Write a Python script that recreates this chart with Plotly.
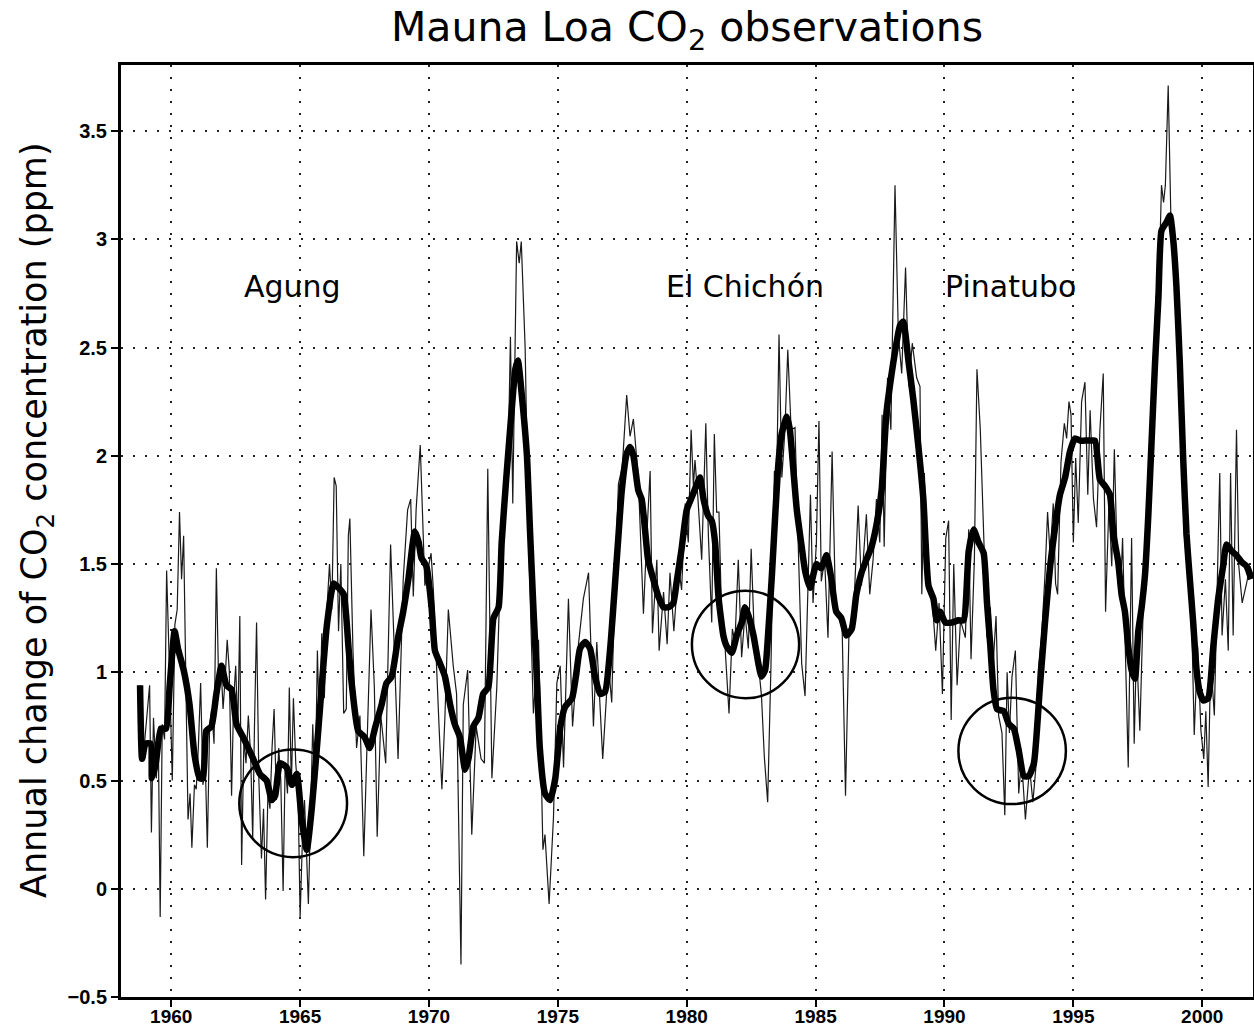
import plotly.graph_objects as go

# ---- Data ----
thin_years = [
    1958.79, 1958.83, 1958.96, 1959.16, 1959.23, 1959.31, 1959.42, 1959.50, 1959.57, 1959.65,
    1959.74, 1959.82, 1959.94, 1960.04, 1960.14, 1960.23, 1960.32, 1960.40, 1960.48, 1960.56,
    1960.65, 1960.73, 1960.80, 1960.90, 1960.97, 1961.05, 1961.14, 1961.23, 1961.32, 1961.40,
    1961.49, 1961.57, 1961.66, 1961.75, 1961.84, 1961.94, 1962.01, 1962.09, 1962.17, 1962.25,
    1962.34, 1962.42, 1962.50, 1962.58, 1962.66, 1962.73, 1962.82, 1962.90, 1962.99, 1963.08,
    1963.16, 1963.23, 1963.31, 1963.40, 1963.50, 1963.58, 1963.66, 1963.75, 1963.83, 1963.91,
    1963.99, 1964.08, 1964.17, 1964.25, 1964.34, 1964.42, 1964.51, 1964.58, 1964.66, 1964.74,
    1964.83, 1964.92, 1965.00, 1965.09, 1965.17, 1965.25, 1965.32, 1965.42, 1965.49, 1965.58,
    1965.67, 1965.75, 1965.84, 1965.94, 1966.04, 1966.14, 1966.23, 1966.32, 1966.40, 1966.49,
    1966.58, 1966.69, 1966.79, 1966.87, 1966.93, 1967.05, 1967.19, 1967.32, 1967.47, 1967.58,
    1967.75, 1967.88, 1967.99, 1968.13, 1968.32, 1968.51, 1968.68, 1968.80, 1969.00, 1969.17,
    1969.29, 1969.39, 1969.50, 1969.66, 1969.84, 1970.08, 1970.17, 1970.30, 1970.39, 1970.50,
    1970.62, 1970.75, 1970.94, 1971.07, 1971.24, 1971.33, 1971.50, 1971.66, 1971.83, 1972.02,
    1972.15, 1972.28, 1972.44, 1972.63, 1972.72, 1972.93, 1973.08, 1973.16, 1973.25, 1973.40,
    1973.50, 1973.58, 1973.73, 1973.86, 1973.99, 1974.05, 1974.25, 1974.35, 1974.42, 1974.50,
    1974.66, 1974.83, 1974.96, 1975.09, 1975.22, 1975.41, 1975.57, 1975.80, 1975.99, 1976.19,
    1976.38, 1976.51, 1976.74, 1976.96, 1977.09, 1977.22, 1977.35, 1977.50, 1977.67, 1977.80,
    1977.93, 1978.12, 1978.32, 1978.45, 1978.58, 1978.67, 1978.84, 1978.93, 1979.10, 1979.24,
    1979.35, 1979.50, 1979.68, 1979.80, 1979.94, 1980.06, 1980.17, 1980.26, 1980.32, 1980.43,
    1980.58, 1980.74, 1980.84, 1980.97, 1981.07, 1981.16, 1981.25, 1981.36, 1981.49, 1981.64,
    1981.77, 1981.87, 1982.00, 1982.13, 1982.26, 1982.39, 1982.50, 1982.65, 1982.78, 1982.90,
    1983.01, 1983.14, 1983.27, 1983.40, 1983.49, 1983.58, 1983.69, 1983.81, 1983.92, 1984.05,
    1984.20, 1984.33, 1984.46, 1984.59, 1984.72, 1984.80, 1984.90, 1985.03, 1985.13, 1985.22,
    1985.35, 1985.48, 1985.64, 1985.77, 1985.90, 1986.03, 1986.16, 1986.29, 1986.45, 1986.65,
    1986.78, 1986.97, 1987.10, 1987.23, 1987.36, 1987.49, 1987.58, 1987.66, 1987.79, 1987.92,
    1988.08, 1988.21, 1988.34, 1988.49, 1988.62, 1988.75, 1988.92, 1989.05, 1989.12, 1989.22,
    1989.35, 1989.51, 1989.66, 1989.79, 1989.92, 1990.05, 1990.16, 1990.26, 1990.36, 1990.49,
    1990.62, 1990.81, 1990.94, 1991.03, 1991.16, 1991.26, 1991.39, 1991.52, 1991.65, 1991.78,
    1991.87, 1992.00, 1992.10, 1992.23, 1992.34, 1992.43, 1992.52, 1992.62, 1992.75, 1992.88,
    1992.99, 1993.14, 1993.30, 1993.43, 1993.56, 1993.64, 1993.77, 1993.90, 1994.00, 1994.10,
    1994.22, 1994.31, 1994.39, 1994.52, 1994.65, 1994.74, 1994.83, 1994.91, 1995.00, 1995.09,
    1995.19, 1995.32, 1995.45, 1995.56, 1995.65, 1995.78, 1995.90, 1996.03, 1996.16, 1996.25,
    1996.38, 1996.49, 1996.59, 1996.72, 1996.82, 1996.91, 1997.00, 1997.13, 1997.26, 1997.36,
    1997.45, 1997.58, 1997.71, 1997.84, 1997.97, 1998.10, 1998.20, 1998.32, 1998.42, 1998.50,
    1998.57, 1998.68, 1998.78, 1998.88, 1998.97, 1999.10, 1999.20, 1999.30, 1999.39, 1999.52,
    1999.61, 1999.69, 1999.82, 1999.95, 2000.06, 2000.14, 2000.23, 2000.33, 2000.47, 2000.59,
    2000.68, 2000.77, 2000.90, 2001.01, 2001.10, 2001.20, 2001.33, 2001.42, 2001.55, 2001.72,
    2001.85, 2001.97,
]
thin_vals = [
    0.94, 0.60, 0.67, 0.94, 0.26, 0.79, 0.51, 0.67, -0.13, 0.76,
    0.69, 1.47, 0.97, 0.50, 1.22, 1.29, 1.74, 1.43, 1.63, 1.00,
    0.32, 0.44, 0.19, 0.48, 0.46, 0.65, 0.95, 0.48, 0.58, 0.19,
    0.76, 0.83, 0.67, 1.48, 0.94, 1.01, 0.83, 0.97, 1.15, 1.01,
    0.43, 0.87, 1.03, 0.73, 1.26, 0.11, 0.69, 0.58, 0.80, 0.62,
    0.23, 0.76, 1.23, 0.50, 0.14, 0.37, -0.05, 0.44, 0.37, 0.65,
    0.83, 0.41, 0.65, 0.50, -0.01, 0.58, 0.44, 0.93, 0.48, 0.88,
    0.58, 0.44, -0.13, 0.23, 0.41, 0.16, -0.07, 0.41, 0.76, 0.43,
    1.10, 0.71, 1.18, 0.88, 1.29, 1.50, 1.29, 1.90, 1.86, 1.19,
    1.50, 0.81, 0.83, 1.63, 1.71, 1.10, 0.65, 0.80, 0.15, 0.60,
    1.29, 0.93, 0.24, 0.80, 0.58, 1.59, 1.00, 0.60, 1.43, 1.75,
    1.80, 1.35, 1.75, 2.05, 1.40, 1.55, 1.38, 1.05, 0.75, 0.46,
    0.80, 1.29, 1.03, 0.90, -0.35, 0.85, 1.01, 0.25, 0.75, 0.60,
    0.58, 1.94, 0.51, 0.93, 1.28, 1.75, 2.05, 2.55, 1.78, 2.99,
    2.89, 2.99, 2.50, 1.63, 1.00, 0.81, 1.15, 0.63, 0.18, 0.25,
    -0.07, 0.33, 0.95, 1.03, 0.56, 1.34, 0.75, 1.13, 1.34, 1.46,
    0.75, 1.14, 0.60, 1.04, 0.86, 1.45, 1.87, 1.95, 2.28, 2.09,
    2.17, 1.90, 1.27, 1.63, 1.93, 1.18, 1.52, 1.10, 1.37, 1.13,
    1.46, 1.19, 1.49, 1.38, 1.78, 1.60, 2.12, 1.86, 1.98, 1.81,
    1.52, 2.15, 1.63, 1.23, 2.10, 1.74, 1.74, 1.23, 1.11, 0.81,
    1.20, 1.14, 1.52, 1.07, 1.27, 1.11, 1.57, 1.07, 1.04, 0.89,
    0.61, 0.40, 1.04, 1.93, 1.89, 2.56, 1.90, 2.12, 2.49, 2.12,
    2.13, 1.57, 1.04, 0.89, 1.50, 1.82, 1.32, 1.60, 2.16, 1.42,
    1.52, 1.16, 2.02, 1.32, 1.26, 1.20, 0.43, 1.16, 1.20, 1.77,
    1.40, 1.73, 1.36, 1.52, 1.80, 1.60, 2.19, 1.58, 2.36, 2.12,
    3.25, 2.56, 2.38, 2.87, 2.32, 2.52, 2.36, 2.32, 1.36, 1.92,
    1.40, 1.36, 1.10, 1.32, 0.90, 1.62, 1.70, 0.78, 1.50, 0.94,
    1.24, 1.16, 1.66, 1.06, 1.52, 2.40, 2.12, 1.58, 1.16, 1.30,
    1.00, 1.26, 0.80, 0.72, 0.34, 1.00, 0.72, 0.98, 1.10, 0.44,
    0.60, 0.32, 0.56, 0.40, 0.58, 1.01, 1.17, 1.45, 1.74, 1.54,
    1.78, 1.41, 1.36, 1.97, 2.15, 2.08, 2.25, 2.19, 1.60, 1.99,
    1.69, 2.25, 2.34, 1.82, 2.21, 1.80, 1.67, 2.12, 2.38, 1.28,
    1.78, 1.49, 2.03, 1.43, 1.34, 1.62, 1.21, 0.56, 1.62, 0.67,
    1.12, 0.73, 1.30, 1.43, 1.78, 2.25, 2.73, 2.80, 3.25, 3.17,
    3.25, 3.71, 3.12, 3.01, 2.82, 2.43, 2.10, 1.64, 1.51, 1.34,
    1.14, 0.71, 1.12, 0.73, 0.60, 0.82, 0.47, 1.06, 0.80, 1.38,
    1.92, 1.17, 1.43, 1.10, 1.92, 1.17, 2.12, 1.49, 1.32, 1.41,
    1.49, 1.45,
]

smooth_years = [
    1958.79, 1958.87, 1959.00, 1959.20, 1959.25, 1959.40, 1959.60, 1959.80, 1959.94, 1960.13,
    1960.26, 1960.50, 1960.71, 1960.90, 1961.10, 1961.23, 1961.36, 1961.56, 1961.75, 1961.95,
    1962.14, 1962.34, 1962.53, 1962.79, 1962.99, 1963.18, 1963.44, 1963.70, 1963.90, 1964.03,
    1964.22, 1964.48, 1964.68, 1964.87, 1965.06, 1965.26, 1965.45, 1965.65, 1965.84, 1966.04,
    1966.30, 1966.49, 1966.69, 1966.88, 1967.00, 1967.25, 1967.50, 1967.70, 1967.90, 1968.16,
    1968.35, 1968.55, 1968.80, 1969.00, 1969.20, 1969.45, 1969.60, 1969.70, 1969.90, 1970.10,
    1970.23, 1970.43, 1970.62, 1970.82, 1971.00, 1971.20, 1971.40, 1971.53, 1971.72, 1971.92,
    1972.10, 1972.30, 1972.50, 1972.70, 1972.82, 1973.00, 1973.20, 1973.35, 1973.45, 1973.60,
    1973.80, 1973.92, 1974.05, 1974.20, 1974.30, 1974.50, 1974.70, 1974.90, 1975.10, 1975.28,
    1975.55, 1975.70, 1975.86, 1976.06, 1976.25, 1976.44, 1976.64, 1976.83, 1977.03, 1977.20,
    1977.35, 1977.48, 1977.67, 1977.80, 1977.93, 1978.12, 1978.25, 1978.38, 1978.50, 1978.70,
    1978.90, 1979.10, 1979.29, 1979.48, 1979.60, 1979.80, 1980.00, 1980.20, 1980.40, 1980.52,
    1980.65, 1980.84, 1980.97, 1981.10, 1981.23, 1981.42, 1981.55, 1981.75, 1981.94, 1982.13,
    1982.26, 1982.40, 1982.59, 1982.78, 1982.90, 1983.04, 1983.17, 1983.30, 1983.43, 1983.56,
    1983.68, 1983.88, 1984.00, 1984.14, 1984.27, 1984.46, 1984.59, 1984.78, 1985.03, 1985.22,
    1985.42, 1985.60, 1985.80, 1986.00, 1986.20, 1986.40, 1986.58, 1986.78, 1986.97, 1987.17,
    1987.36, 1987.56, 1987.75, 1987.95, 1988.08, 1988.27, 1988.40, 1988.60, 1988.79, 1988.99,
    1989.18, 1989.38, 1989.57, 1989.70, 1989.83, 1990.03, 1990.29, 1990.55, 1990.74, 1990.94,
    1991.13, 1991.32, 1991.52, 1991.65, 1991.78, 1991.90, 1992.04, 1992.30, 1992.50, 1992.69,
    1992.88, 1993.08, 1993.27, 1993.47, 1993.70, 1993.90, 1994.10, 1994.29, 1994.48, 1994.68,
    1994.87, 1995.06, 1995.26, 1995.45, 1995.65, 1995.84, 1996.03, 1996.23, 1996.42, 1996.55,
    1996.74, 1996.87, 1997.00, 1997.13, 1997.26, 1997.39, 1997.52, 1997.65, 1997.78, 1997.91,
    1998.04, 1998.17, 1998.30, 1998.42, 1998.62, 1998.75, 1998.88, 1999.00, 1999.13, 1999.26,
    1999.39, 1999.52, 1999.65, 1999.78, 1999.90, 2000.04, 2000.23, 2000.43, 2000.62, 2000.81,
    2000.94, 2001.14, 2001.33, 2001.52, 2001.72, 2001.90,
]
smooth_vals = [
    0.94, 0.60, 0.67, 0.67, 0.51, 0.58, 0.74, 0.74, 0.94, 1.19,
    1.11, 1.00, 0.85, 0.62, 0.51, 0.51, 0.73, 0.75, 0.90, 1.03,
    0.94, 0.92, 0.76, 0.70, 0.65, 0.60, 0.53, 0.50, 0.41, 0.43,
    0.58, 0.56, 0.48, 0.53, 0.32, 0.18, 0.37, 0.65, 0.94, 1.22,
    1.41, 1.39, 1.36, 1.11, 0.95, 0.73, 0.70, 0.65, 0.74, 0.85,
    0.95, 0.98, 1.16, 1.28, 1.43, 1.65, 1.60, 1.53, 1.49, 1.30,
    1.10, 1.04, 0.98, 0.85, 0.76, 0.70, 0.55, 0.60, 0.75, 0.79,
    0.90, 0.93, 1.25, 1.30, 1.60, 1.90, 2.20, 2.40, 2.44, 2.28,
    2.00, 1.65, 1.30, 0.93, 0.65, 0.44, 0.41, 0.51, 0.75, 0.84,
    0.88, 0.98, 1.11, 1.14, 1.11, 0.98, 0.90, 0.91, 1.11, 1.38,
    1.63, 1.84, 2.01, 2.04, 2.00, 1.84, 1.80, 1.66, 1.52, 1.43,
    1.35, 1.30, 1.30, 1.32, 1.41, 1.57, 1.75, 1.81, 1.87, 1.90,
    1.80, 1.72, 1.70, 1.60, 1.35, 1.17, 1.12, 1.09, 1.17, 1.23,
    1.30, 1.26, 1.17, 1.04, 0.98, 1.01, 1.20, 1.44, 1.72, 1.97,
    2.10, 2.18, 2.12, 1.93, 1.75, 1.58, 1.47, 1.39, 1.50, 1.48,
    1.54, 1.44, 1.28, 1.25, 1.17, 1.20, 1.36, 1.46, 1.52, 1.58,
    1.68, 1.84, 2.20, 2.38, 2.48, 2.60, 2.62, 2.44, 2.26, 2.04,
    1.80, 1.40, 1.34, 1.24, 1.28, 1.23, 1.23, 1.24, 1.24, 1.56,
    1.66, 1.60, 1.55, 1.32, 1.12, 0.92, 0.83, 0.82, 0.76, 0.74,
    0.64, 0.52, 0.52, 0.58, 0.93, 1.23, 1.49, 1.67, 1.82, 1.90,
    2.02, 2.08, 2.07, 2.07, 2.07, 2.07, 1.89, 1.86, 1.82, 1.64,
    1.51, 1.36, 1.28, 1.12, 1.01, 0.97, 1.19, 1.30, 1.45, 1.73,
    2.08, 2.43, 2.73, 3.04, 3.08, 3.11, 2.99, 2.78, 2.43, 1.99,
    1.64, 1.43, 1.23, 1.01, 0.91, 0.87, 0.88, 1.12, 1.34, 1.49,
    1.59, 1.56, 1.54, 1.51, 1.49, 1.43,
]

volcano_names = ["Agung", "El Chichón", "Pinatubo"]
volcano_label_x = [1964.69, 1982.26, 1992.58]
volcano_label_y = [2.78, 2.78, 2.78]
circle_x0 = [1962.64, 1980.20, 1990.54]
circle_x1 = [1966.82, 1984.36, 1994.71]
circle_y0 = [0.146, 0.880, 0.391]
circle_y1 = [0.643, 1.377, 0.882]

x_tick_vals = [1960, 1965, 1970, 1975, 1980, 1985, 1990, 1995, 2000]
y_tick_vals = [-0.5, 0, 0.5, 1, 1.5, 2, 2.5, 3, 3.5]

# ---- Figure ----
fig = go.Figure()
fig.add_trace(go.Scatter(x=thin_years, y=thin_vals, mode="lines",
                         line=dict(color="#1a1a1a", width=1.2), hoverinfo="skip"))
fig.add_trace(go.Scatter(x=smooth_years, y=smooth_vals, mode="lines",
                         line=dict(color="black", width=6.5, shape="spline", smoothing=0.5),
                         hoverinfo="skip"))

for x0, x1, y0, y1 in zip(circle_x0, circle_x1, circle_y0, circle_y1):
    fig.add_shape(type="circle", xref="x", yref="y", x0=x0, x1=x1, y0=y0, y1=y1,
                  line=dict(color="black", width=2.5))

for name, lx, ly in zip(volcano_names, volcano_label_x, volcano_label_y):
    fig.add_annotation(x=lx, y=ly, xref="x", yref="y", text=name, showarrow=False,
                       font=dict(family="DejaVu Sans", size=30, color="black"),
                       xanchor="center", yanchor="middle")

fig.add_annotation(xref="paper", yref="paper", x=-0.074, y=0.512,
                   text="Annual change of CO<sub>2</sub> concentration (ppm)",
                   textangle=-90, showarrow=False,
                   font=dict(family="DejaVu Sans", size=35, color="black"),
                   xanchor="center", yanchor="middle")

grid_style = dict(showgrid=True, gridcolor="#222222", gridwidth=1.5, griddash="2px,10px")

fig.update_layout(
    width=1254, height=1030,
    margin=dict(l=121, r=1, t=65, b=33),
    paper_bgcolor="white", plot_bgcolor="white",
    showlegend=False,
    title=dict(text="Mauna Loa CO<sub>2</sub> observations",
               x=0.5, xref="paper", xanchor="center",
               y=0.974, yref="container", yanchor="middle",
               font=dict(family="DejaVu Sans", size=41, color="black")),
    xaxis=dict(range=[1958.05, 2001.97], tickvals=x_tick_vals, automargin=False,
               ticks="outside", ticklen=7, tickwidth=2, tickcolor="black",
               ticklabelstandoff=-7,
               showline=True, linewidth=3, linecolor="black", mirror=True,
               zeroline=False,
               tickfont=dict(family="Liberation Sans", size=19, color="black", weight="bold"),
               **grid_style),
    yaxis=dict(range=[-0.5, 3.805], tickvals=y_tick_vals, automargin=False,
               ticks="outside", ticklen=7, tickwidth=2, tickcolor="black",
               showline=True, linewidth=3, linecolor="black", mirror=True,
               zeroline=False,
               tickfont=dict(family="Liberation Sans", size=20, color="black", weight="bold"),
               **grid_style),
)

fig.write_html("out.html", config={"displayModeBar": False},
               post_script="document.body.style.margin='0';document.body.style.padding='0';")
